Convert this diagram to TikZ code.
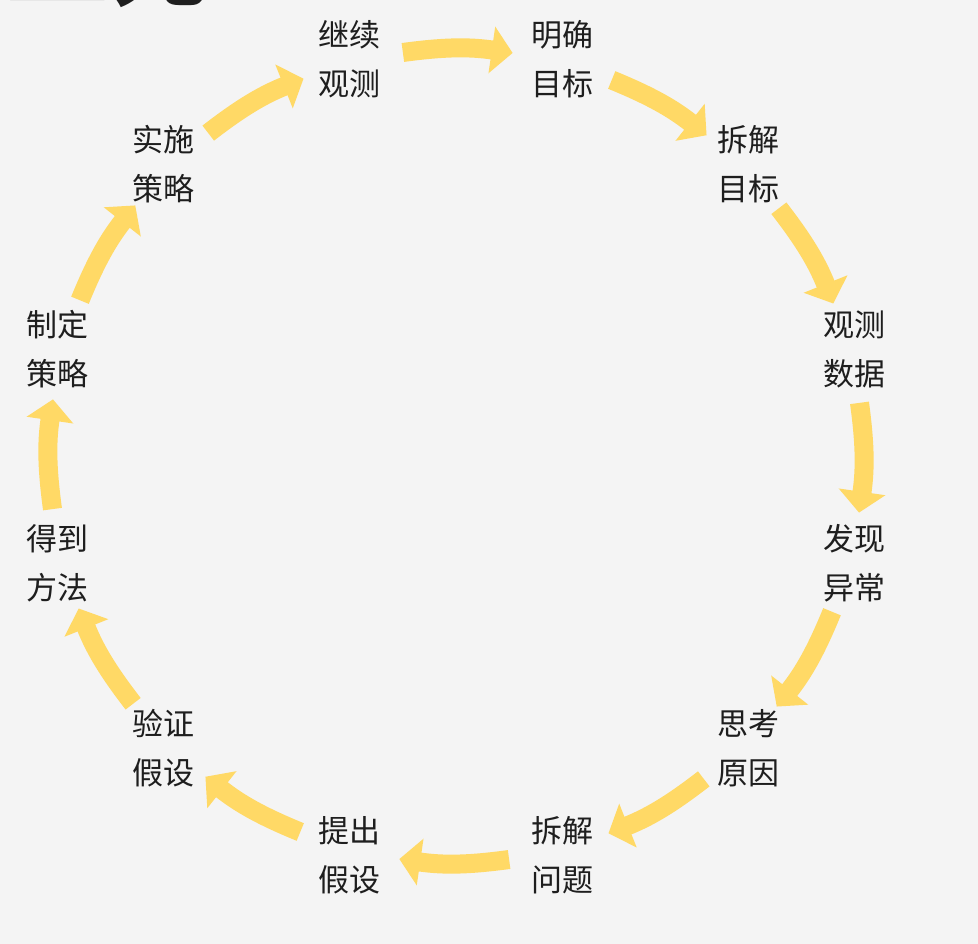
\documentclass[tikz,border=0pt]{standalone}
\usepackage{fontspec}
\usepackage{xcolor}
\usetikzlibrary{arrows.meta}
\newfontfamily\cjk{Noto Sans CJK SC}
\definecolor{flowyellow}{HTML}{FFD966}
\definecolor{paper}{HTML}{F4F4F4}
\definecolor{ink}{HTML}{1E1E1E}

\begin{document}
\begin{tikzpicture}[x=1pt, y=1pt,
  stepbox/.style={align=center, inner sep=0pt, text=ink, font=\cjk\fontsize{31}{49}\selectfont},
  flow/.style={-{Triangle[length=21pt, width=46pt]}, line width=19pt, flowyellow}]
\useasboundingbox (-456,-488) rectangle (522,456);
\fill[paper] (-456,-488) rectangle (522,456);
% heading of the slide, cut off at the top
\begin{scope}
\clip (-456,-488) rectangle (522,456);
\node[anchor=base west, inner sep=0pt, text=ink, font=\cjk\bfseries\fontsize{102}{102}\selectfont] (title) at (-450,458.5) {工先};
\end{scope}
% steps round the circle
\node[stepbox] (watch) at (105:411) {继续\\观测};
\node[stepbox] (goal) at (75:411) {明确\\目标};
\node[stepbox] (split) at (45:413) {拆解\\目标};
\node[stepbox] (data) at (15:413) {观测\\数据};
\node[stepbox] (anom) at (-15:413) {发现\\异常};
\node[stepbox] (cause) at (-45:413) {思考\\原因};
\node[stepbox] (issue) at (-75:413) {拆解\\问题};
\node[stepbox] (hypo) at (-105:413) {提出\\假设};
\node[stepbox] (test) at (-135:413) {验证\\假设};
\node[stepbox] (method) at (-165:413) {得到\\方法};
\node[stepbox] (plan) at (165:413) {制定\\策略};
\node[stepbox] (act) at (135:413) {实施\\策略};
% arrows between the steps
\foreach \a [count=\i] in {90,60,...,-240} {
  \coordinate (s\i) at (\a+7.5:407);
  \coordinate (e\i) at (\a-8:407);
  \draw[flow] (s\i) to[bend left=8] (e\i);
}
\end{tikzpicture}
\end{document}
